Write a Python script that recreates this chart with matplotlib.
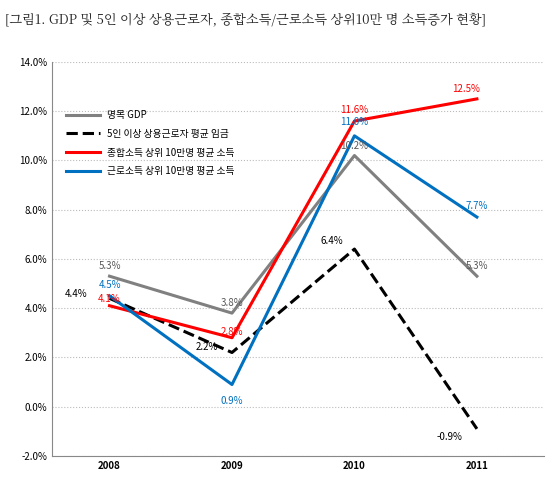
import matplotlib.pyplot as plt

plt.rcParams['font.family'] = ['Noto Sans CJK KR', 'DejaVu Sans']

years = ['2008', '2009', '2010', '2011']
gdp = [5.3, 3.8, 10.2, 5.3]
wage = [4.4, 2.2, 6.4, -0.9]
total_inc = [4.1, 2.8, 11.6, 12.5]
labor_inc = [4.5, 0.9, 11.0, 7.7]
names = ['명목 GDP', '5인 이상 상용근로자 평균 임금',
         '종합소득 상위 10만명 평균 소득', '근로소득 상위 10만명 평균 소득']

fig = plt.figure(figsize=(5.47, 4.84), dpi=100)
fig.text(0.01, 0.975, '[그림1. GDP 및 5인 이상 상용근로자, 종합소득/근로소득 상위10만 명 소득증가 현황]',
         fontsize=9.5, va='top', color='#222222', family=['Noto Serif CJK KR', 'Noto Sans CJK KR', 'DejaVu Sans'])
ax = fig.add_axes([0.095, 0.058, 0.9, 0.814])
x = range(len(years))

ax.plot(x, gdp, color='#808080', lw=2.2, label=names[0])
ax.plot(x, wage, color='black', lw=2.2, ls='--', label=names[1])
ax.plot(x, total_inc, color='#ff0000', lw=2.2, label=names[2])
ax.plot(x, labor_inc, color='#0070c0', lw=2.2, label=names[3])

# value labels (offsets in points)
labs = [
    (gdp, '#595959', [(0, 7), (0, 7), (0, 7), (0, 7)]),
    (wage, 'black', [(-24, 3), (-18, 4), (-16, 6), (-20, -6)]),
    (total_inc, '#ff0000', [(0, 5), (0, 4), (0, 8), (-8, 7)]),
    (labor_inc, '#0070c0', [(0, 8), (0, -12), (0, 10), (0, 8)]),
]
for vals, c, offs in labs:
    for i, v in enumerate(vals):
        ax.annotate(f'{v:.1f}%', (i, v), xytext=offs[i], textcoords='offset points',
                    ha='center', va='center', fontsize=7, color=c)

ax.set_xlim(-0.47, 3.55)
ax.set_ylim(-2, 14)
ax.set_yticks(range(-2, 15, 2))
ax.set_yticklabels([f'{v:.1f}%' for v in range(-2, 15, 2)], fontsize=7)
ax.set_xticks(list(x))
ax.set_xticklabels(years, fontsize=7, fontweight='bold')
ax.tick_params(length=0)
ax.grid(axis='y', ls=':', color='#bbbbbb', lw=0.8)
for s in ['top', 'right']:
    ax.spines[s].set_visible(False)
ax.spines['left'].set_color('#888888')
ax.spines['bottom'].set_color('#888888')
ax.legend(loc='upper left', bbox_to_anchor=(0.01, 0.9), frameon=False, fontsize=7,
          handlelength=3.5, labelspacing=0.9)

fig.savefig('out.png')
